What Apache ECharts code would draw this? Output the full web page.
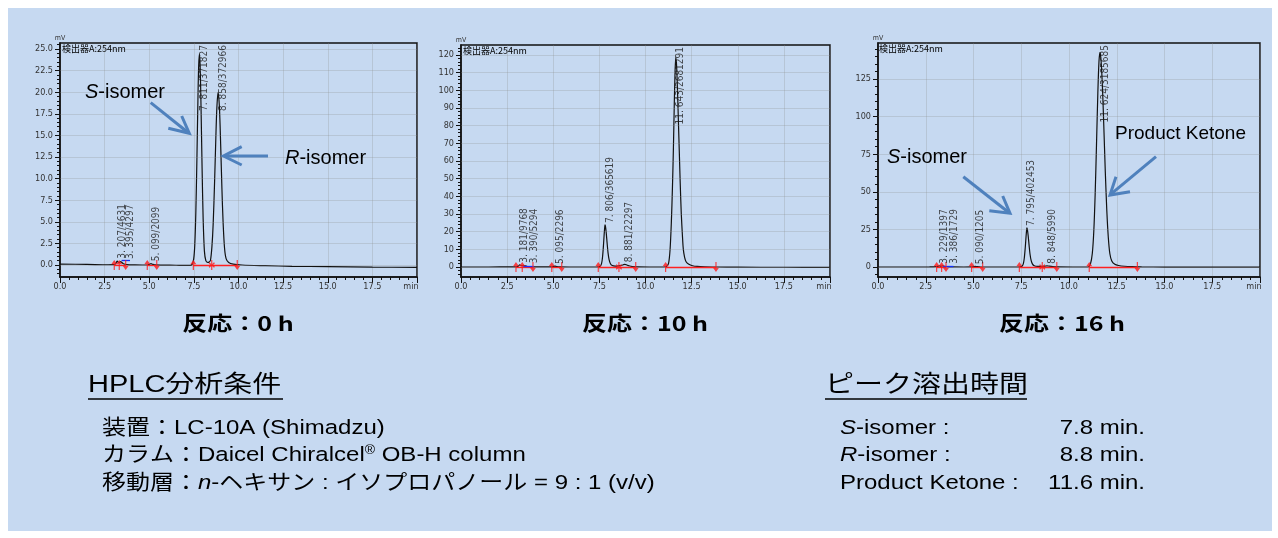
<!DOCTYPE html>
<html><head><meta charset="utf-8">
<script src="https://cdn.jsdelivr.net/npm/echarts@6/dist/echarts.min.js"></script>
<style>html,body{margin:0;padding:0;background:#fff}#c{width:1278px;height:538px}</style>
</head><body><div id="c"></div>
<script>
// ---------- DATA ----------
// Panel 1 : 反応 0 h
const p1Time   = [0,1.5,2.7,3.0,3.1,3.16,3.207,3.26,3.31,3.36,3.395,3.45,3.55,3.75,4.2,4.9,5.02,5.099,5.17,5.3,6.5,7.3,7.41,7.49,7.55,7.61,7.67,7.73,7.77,7.811,7.85,7.9,7.96,8.02,8.09,8.17,8.27,8.36,8.43,8.51,8.58,8.66,8.73,8.79,8.858,8.93,9.0,9.07,9.14,9.22,9.31,9.45,9.7,10.2,11.5,13,15,17.5,20];
const p1Signal = [0.1,0.07,0.03,0.04,0.12,0.3,0.45,0.33,0.28,0.35,0.4,0.32,0.15,0.05,0.02,0.0,0.09,0.15,0.09,0.01,-0.03,-0.05,0.1,0.7,2.3,6.1,12.3,19.5,23.1,24.4,23.1,18.4,11.2,5.3,1.6,0.5,0.3,0.35,0.55,2.1,4.7,9.6,14.7,18.3,20.0,18.3,14.0,8.9,4.8,1.9,0.7,0.3,0.1,0.0,-0.08,-0.15,-0.2,-0.25,-0.28];
const p1LabelTimes  = [3.207,3.395,5.099,7.811,8.858];
const p1LabelLevels = [0.5,0.45,0.2,24.4,20.0];
const p1LabelTexts  = ['3. 207/4631','3. 395/4297','5. 099/2099','7. 811/371827','8. 858/372966'];
const p1LabelAtTop  = [false,false,false,true,true];
const p1MarkTimes = [3.04,3.32,3.68,4.89,5.42,7.47,8.5,9.93];
const p1MarkKinds = ['up','up','down','up','down','up','both','down'];
const p1RedStart = [3.04,4.89,7.47];
const p1RedEnd   = [3.68,5.42,9.93];
const p1BlueSeg  = [3.45,3.92,0.55];
const p1YTicks = [0,2.5,5,7.5,10,12.5,15,17.5,20,22.5,25];

// Panel 2 : 反応 10 h
const p2Time   = [0,1.5,2.7,3.0,3.1,3.181,3.26,3.32,3.39,3.47,3.6,3.85,4.5,4.92,5.02,5.095,5.18,5.35,6.5,7.35,7.45,7.55,7.62,7.67,7.72,7.76,7.79,7.806,7.83,7.87,7.92,7.97,8.03,8.1,8.2,8.35,8.55,8.7,8.8,8.881,8.96,9.1,9.3,9.6,10.2,11.0,11.15,11.25,11.33,11.4,11.46,11.51,11.56,11.6,11.643,11.69,11.74,11.79,11.83,11.88,11.94,12.0,12.05,12.12,12.2,12.35,12.55,12.8,13.2,13.8,15,17.5,20];
const p2Signal = [0.0,0.0,0.05,0.1,0.5,1.2,0.8,0.7,0.9,0.6,0.3,0.1,0.05,0.05,0.3,0.5,0.3,0.1,0.0,0.0,0.1,0.5,2.0,5.5,12.0,18.5,22.5,23.8,23.0,19.5,13.5,8.0,4.0,1.8,0.8,0.5,0.6,0.9,1.3,1.5,1.3,0.7,0.25,0.05,0.0,0.0,0.4,2.0,9.6,25,45,66,92,110,118.8,113,98,80,66,48,30,18,10,5.5,3.0,1.5,0.7,0.3,0.1,0.0,-0.1,-0.15,-0.2];
const p2LabelTimes  = [3.181,3.390,5.095,7.806,8.881,11.643];
const p2LabelLevels = [1.3,1.0,0.6,23.8,1.6,118.8];
const p2LabelTexts  = ['3. 181/9768','3. 390/5294','5. 095/2296','7. 806/365619','8. 881/22297','11. 643/2681291'];
const p2LabelAtTop  = [false,false,false,false,false,true];
const p2MarkTimes = [2.98,3.32,3.9,4.92,5.46,7.44,8.56,9.47,11.09,13.82];
const p2MarkKinds = ['up','up','down','up','down','up','both','down','up','down'];
const p2RedStart = [2.98,4.92,7.44,11.09];
const p2RedEnd   = [3.9,5.46,9.47,13.82];
const p2BlueSeg  = [3.37,3.96,0.4];
const p2YTicks = [0,10,20,30,40,50,60,70,80,90,100,110,120];

// Panel 3 : 反応 16 h
const p3Time   = [0,1.5,2.7,3.05,3.15,3.229,3.3,3.386,3.47,3.6,3.85,4.5,4.92,5.02,5.09,5.17,5.35,6.5,7.35,7.45,7.55,7.61,7.66,7.71,7.75,7.78,7.795,7.82,7.86,7.91,7.96,8.02,8.09,8.18,8.35,8.6,8.75,8.848,8.95,9.15,9.4,10.2,11.0,11.12,11.22,11.3,11.37,11.44,11.51,11.57,11.624,11.68,11.75,11.82,11.9,11.98,12.06,12.14,12.24,12.4,12.6,12.9,13.3,13.8,15,17.5,20];
const p3Signal = [0.0,0.0,0.05,0.2,0.5,0.7,0.5,0.8,0.5,0.2,0.05,0.0,0.05,0.25,0.4,0.25,0.05,0.0,0.0,0.1,0.6,2.2,6.0,13.0,20.0,24.5,26.0,25.0,21.0,14.5,8.5,4.2,1.9,0.8,0.4,0.4,0.6,0.8,0.6,0.3,0.1,0.0,0.0,1.9,9.0,24.3,48.5,81.5,115.7,136.7,142.7,137,119.8,94.6,63.5,37.4,19.3,8.8,4.0,1.8,1.0,0.5,0.2,0.05,-0.05,-0.1,-0.15];
const p3LabelTimes  = [3.229,3.386,5.090,7.795,8.848,11.624];
const p3LabelLevels = [0.8,0.9,0.5,26.0,0.9,142.7];
const p3LabelTexts  = ['3. 229/1397','3. 386/1729','5. 090/1205','7. 795/402453','8. 848/5990','11. 624/3185685'];
const p3LabelAtTop  = [false,false,false,false,false,true];
const p3MarkTimes = [3.07,3.33,3.56,4.9,5.48,7.40,8.60,9.36,11.06,13.58];
const p3MarkKinds = ['up','up','down','up','down','up','both','down','up','down'];
const p3RedStart = [3.07,4.9,7.40,11.06];
const p3RedEnd   = [3.56,5.48,9.36,13.58];
const p3BlueSeg  = [3.4,3.95,0.3];
const p3YTicks = [0,25,50,75,100,125];

const panelTitles = ['反応：0 h','反応：10 h','反応：16 h'];

// ---------- STYLE / LAYOUT ----------
const labelNudge = [[0,5,0,0,0],[0,6,0,0,0,0],[0,7,0,0,0,0]];   // px, to avoid label overlap
const NARROW = "'Liberation Sans Narrow','DejaVu Sans Condensed','Liberation Sans',sans-serif";
const LATIN = "'Liberation Sans','Noto Sans CJK JP',sans-serif";
const CJK = "'Noto Sans CJK JP','Liberation Sans',sans-serif";
const grids = [
  {left:60, top:43, width:357, height:234},
  {left:461,top:45, width:369, height:232},
  {left:878,top:43, width:382, height:234}
];
const yRanges = [[-1.39,25.69],[-5.66,125.66],[-6.65,148.9]];
const yMinorStep = [0.5,2,5];
const yDecimals = [1,0,0];
const titleX = [238,645,1062];

const panels = [
  {time:p1Time,sig:p1Signal,lt:p1LabelTimes,ll:p1LabelLevels,lx:p1LabelTexts,top:p1LabelAtTop,mt:p1MarkTimes,mk:p1MarkKinds,rs:p1RedStart,re:p1RedEnd,blue:p1BlueSeg,yt:p1YTicks},
  {time:p2Time,sig:p2Signal,lt:p2LabelTimes,ll:p2LabelLevels,lx:p2LabelTexts,top:p2LabelAtTop,mt:p2MarkTimes,mk:p2MarkKinds,rs:p2RedStart,re:p2RedEnd,blue:p2BlueSeg,yt:p2YTicks},
  {time:p3Time,sig:p3Signal,lt:p3LabelTimes,ll:p3LabelLevels,lx:p3LabelTexts,top:p3LabelAtTop,mt:p3MarkTimes,mk:p3MarkKinds,rs:p3RedStart,re:p3RedEnd,blue:p3BlueSeg,yt:p3YTicks}
];

const ARROW_UP = 'path://M5,0L10,6L6,6L6,14L4,14L4,6L0,6Z';
const STAR = 'path://M4,0H6V4L9,2L10,3.7L7,5L10,6.3L9,8L6,6V10H4V6L1,8L0,6.3L3,5L0,3.7L1,2L4,4Z';
const GRIDLINE = 'rgba(140,140,140,0.26)';
const AX = '#111';

const xAxes = [], yAxes = [], series = [];
panels.forEach((p, i) => {
  const [ymin, ymax] = yRanges[i];
  xAxes.push({
    type:'value', gridIndex:i, min:0, max:20, interval:2.5,
    axisLine:{show:true,onZero:false,lineStyle:{color:AX,width:1.5}},
    axisTick:{show:true,length:6,lineStyle:{color:AX}},
    minorTick:{show:true,splitNumber:5,length:3,lineStyle:{color:AX}},
    axisLabel:{margin:5,fontSize:9,color:'#333',fontFamily:NARROW,showMinLabel:true,showMaxLabel:true,hideOverlap:false,
      formatter:v => v === 20 ? '{m|min}' : v.toFixed(1),
      rich:{m:{fontSize:9,color:'#333',fontFamily:NARROW,padding:[0,12,0,0]}}},
    splitLine:{show:true,lineStyle:{color:GRIDLINE,width:1}}
  });
  const minor = [];
  for (let v = Math.ceil(ymin / yMinorStep[i]) * yMinorStep[i]; v <= ymax; v += yMinorStep[i]) minor.push(+v.toFixed(3));
  yAxes.push({
    type:'value', gridIndex:i, min:ymin, max:ymax, position:'left',
    name:'mV', nameLocation:'end', nameGap:1,
    nameTextStyle:{fontSize:7,color:'#333',fontFamily:NARROW,align:'center',verticalAlign:'bottom'},
    axisLine:{show:true,onZero:false,lineStyle:{color:AX,width:1.5}},
    axisTick:{show:true,length:5,customValues:p.yt,lineStyle:{color:AX}},
    axisLabel:{customValues:p.yt,margin:7,fontSize:9,color:'#333',fontFamily:NARROW,formatter:v => (+v).toFixed(yDecimals[i])},
    splitLine:{show:false}
  });
  yAxes.push({
    type:'value', gridIndex:i, min:ymin, max:ymax, position:'left',
    axisLine:{show:false}, axisTick:{show:true,length:3,customValues:minor,lineStyle:{color:AX}},
    axisLabel:{show:false}, splitLine:{show:false}
  });
  const xi = i, yi = 2 * i;
  series.push({type:'line',xAxisIndex:xi,yAxisIndex:yi,data:[],z:1,silent:true,
    markLine:{silent:true,symbol:'none',animation:false,label:{show:false},
      lineStyle:{color:GRIDLINE,type:'solid',width:1},data:p.yt.map(v => ({yAxis:v}))}});
  series.push({type:'line',xAxisIndex:xi,yAxisIndex:yi,data:[],z:3,silent:true,
    markLine:{silent:true,symbol:'none',animation:false,label:{show:false},
      lineStyle:{color:'#ff2020',type:'solid',width:1.3},
      data:p.rs.map((s,k) => [{coord:[s,0]},{coord:[p.re[k],0]}])
        .concat([[{coord:[p.blue[0],p.blue[2]],lineStyle:{color:'#1030ff'}},{coord:[p.blue[1],p.blue[2]]}]])}});
  series.push({type:'line',xAxisIndex:xi,yAxisIndex:yi,z:4,showSymbol:false,smooth:0.3,silent:true,
    lineStyle:{color:'#111',width:1.2},data:p.time.map((t,k) => [t,p.sig[k]])});
  series.push({type:'scatter',xAxisIndex:xi,yAxisIndex:yi,z:5,silent:true,symbolSize:[6,10],
    itemStyle:{color:'#ff1a1a'},
    data:p.mt.map((t,k) => ({value:[t,0],symbol:p.mk[k]==='both'?STAR:ARROW_UP,symbolRotate:p.mk[k]==='down'?180:0}))});
  series.push({type:'scatter',xAxisIndex:xi,yAxisIndex:yi,z:6,silent:true,symbolSize:1,
    itemStyle:{color:'rgba(0,0,0,0)'},
    label:{show:true,position:'inside',rotate:90,verticalAlign:'top',fontSize:10,fontFamily:NARROW,color:'#1a1a1a'},
    labelLayout:{hideOverlap:false},
    data:p.lt.map((t,k) => ({
      value:[t, p.top[k] ? ymax : p.ll[k]],
      label:{formatter:p.lx[k],align:p.top[k]?'right':'left',
        padding:p.top[k]?[labelNudge[i][k],2,0,0]:[labelNudge[i][k],0,0,2]}
    }))});
});

// ---------- GRAPHICS (annotations & text) ----------
const blue = '#4f81bd';
function arrow(shaft, head){
  return [
    {type:'polyline',shape:{points:shaft},style:{stroke:blue,lineWidth:3,fill:null},z:20,silent:true},
    {type:'polyline',shape:{points:head},style:{stroke:blue,lineWidth:3,fill:null,lineJoin:'miter'},z:20,silent:true}
  ];
}
function rtext(x,y,text,size,opts){
  opts = opts || {};
  const el = {type:'text',x:x,y:y,z:20,silent:true,style:{
    text:text,fontSize:size,fontFamily:opts.family||LATIN,fontWeight:opts.weight||'normal',fill:'#000',
    align:opts.align||'left',verticalAlign:'middle',textAlign:opts.align||'left',textVerticalAlign:'middle',
    rich:{
      i:{fontStyle:'italic',fontSize:size,fontFamily:LATIN,fontWeight:opts.weight||'normal',fill:'#000'},
      sup:{fontSize:Math.round(size*0.6),fontFamily:LATIN,fill:'#000',verticalAlign:'top'}
    }
  }};
  if (opts.sy) el.scaleY = opts.sy;
  return el;
}
const graphics = [
  {type:'rect',shape:{x:8,y:8,width:1264,height:523},style:{fill:'#c6d9f1'},z:-100,silent:true},
];
[[62,49],[463,51],[879,49]].forEach(([x,y]) => graphics.push(rtext(x,y,'検出器A:254nm',9,{family:"'Liberation Sans Narrow','Noto Sans CJK JP',sans-serif"})));
panelTitles.forEach((t,i) => graphics.push(rtext(titleX[i],323,t,25,{align:'center',weight:'bold',family:CJK,sy:0.8})));
graphics.push(rtext(85,92,'{i|S}-isomer',20));
graphics.push(rtext(285,158,'{i|R}-isomer',20));
graphics.push(rtext(887,157,'{i|S}-isomer',20));
graphics.push(rtext(1115,134,'Product Ketone',19));
graphics.push(...arrow([[150.7,102.7],[188,132.5]],[[181.7,116],[189.3,133.3],[168.3,128.3]]));
graphics.push(...arrow([[268,156],[225,156]],[[241.7,146.7],[223.5,156],[241.7,165]]));
graphics.push(...arrow([[963.3,176.7],[1008.5,212.3]],[[1002.7,196],[1010,213.3],[989.3,210.7]]));
graphics.push(...arrow([[1156,156.7],[1111.5,193.7]],[[1116,176.7],[1110,195],[1130,191.7]]));
// bottom-left block
graphics.push(rtext(88,385,'HPLC分析条件',29,{sy:0.82}));
graphics.push({type:'line',shape:{x1:88,y1:399,x2:283,y2:399},style:{stroke:'#000',lineWidth:1.5},z:20,silent:true});
graphics.push(rtext(102,428,'装置：LC-10A (Shimadzu)',24,{sy:0.87}));
graphics.push(rtext(102,455,'カラム：Daicel Chiralcel{sup|®} OB-H column',24,{sy:0.87}));
graphics.push(rtext(102,483,'移動層：{i|n}-ヘキサン : イソプロパノール = 9 : 1 (v/v)',24,{sy:0.87}));
// bottom-right block
graphics.push(rtext(825,385,'ピーク溶出時間',29,{sy:0.82}));
graphics.push({type:'line',shape:{x1:825,y1:399,x2:1027,y2:399},style:{stroke:'#000',lineWidth:1.5},z:20,silent:true});
graphics.push(rtext(840,428,'{i|S}-isomer :',24,{sy:0.87}));
graphics.push(rtext(840,455,'{i|R}-isomer :',24,{sy:0.87}));
graphics.push(rtext(840,483,'Product Ketone :',24,{sy:0.87}));
graphics.push(rtext(1145,428,'7.8 min.',24,{align:'right',sy:0.87}));
graphics.push(rtext(1145,455,'8.8 min.',24,{align:'right',sy:0.87}));
graphics.push(rtext(1145,483,'11.6 min.',24,{align:'right',sy:0.87}));

const chart = echarts.init(document.getElementById('c'), null, {renderer:'canvas'});
chart.setOption({
  animation:false,
  backgroundColor:'#ffffff',
  grid:grids.map(g => Object.assign({show:true,borderColor:'#111',borderWidth:1.5,backgroundColor:'transparent',containLabel:false}, g)),
  xAxis:xAxes,
  yAxis:yAxes,
  series:series,
  graphic:{elements:graphics}
});
</script></body></html>
